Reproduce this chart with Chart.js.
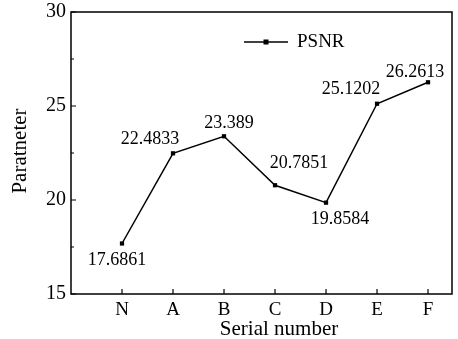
<!DOCTYPE html>
<html>
<head>
<meta charset="utf-8">
<script src="https://cdn.jsdelivr.net/npm/chart.js@4/dist/chart.umd.min.js"></script>
<style>
  html, body { margin: 0; padding: 0; background: #fff; }
  #wrap { width: 458px; height: 339px; }
</style>
</head>
<body>
<div id="wrap"><canvas id="c"></canvas></div>
<script>
// data
const categories = ['N', 'A', 'B', 'C', 'D', 'E', 'F'];
const psnr = [17.6861, 22.4833, 23.389, 20.7851, 19.8584, 25.1202, 26.2613];
const yTicks = [15, 20, 25, 30];
const yMinorTicks = [17.5, 22.5, 27.5];

// where each value label sits relative to its point (px)
const labelOffsets = [[-5, 17], [-23, -14], [5, -13], [24, -22], [14, 17], [-26, -14], [-13, -10]];

const FONT = '"Liberation Serif", "Times New Roman", serif';

const boxPlugin = {
    id: 'box',
    afterDraw(chart) {
        const ctx = chart.ctx;
        const a = chart.chartArea;
        const x = chart.scales.x, y = chart.scales.y;
        ctx.save();
        ctx.strokeStyle = '#000';
        ctx.lineWidth = 1.5;
        ctx.strokeRect(a.left, a.top, a.right - a.left, a.bottom - a.top);

        // inward ticks
        ctx.lineWidth = 1.2;
        ctx.beginPath();
        yTicks.forEach(v => {
            let py = y.getPixelForValue(v);
            ctx.moveTo(a.left, py); ctx.lineTo(a.left + 5, py);
        });
        yMinorTicks.forEach(v => {
            let py = y.getPixelForValue(v);
            ctx.moveTo(a.left, py); ctx.lineTo(a.left + 3, py);
        });
        categories.forEach((c, i) => {
            let px = x.getPixelForValue(i);
            ctx.moveTo(px, a.bottom); ctx.lineTo(px, a.bottom - 5);
        });
        ctx.stroke();

        // value labels
        const meta = chart.getDatasetMeta(0);
        ctx.fillStyle = '#000';
        ctx.font = '18px ' + FONT;
        ctx.textAlign = 'center';
        ctx.textBaseline = 'middle';
        meta.data.forEach((pt, i) => {
            ctx.fillText(String(psnr[i]), pt.x + labelOffsets[i][0], pt.y + labelOffsets[i][1]);
        });

        // legend
        ctx.lineWidth = 1.5;
        ctx.beginPath();
        ctx.moveTo(244, 42); ctx.lineTo(288, 42);
        ctx.stroke();
        ctx.fillRect(263.5, 39.5, 5, 5);
        ctx.font = '19px ' + FONT;
        ctx.textAlign = 'left';
        ctx.fillText('PSNR', 297, 42);

        // axis titles
        ctx.font = '21px ' + FONT;
        ctx.textAlign = 'center';
        ctx.fillText('Serial number', 279, 329);
        ctx.translate(20, 151);
        ctx.rotate(-Math.PI / 2);
        ctx.fillText('Paratneter', 0, 0);
        ctx.restore();
    }
};

new Chart(document.getElementById('c'), {
    type: 'line',
    data: {
        datasets: [{
            label: 'PSNR',
            data: psnr.map((v, i) => ({x: i, y: v})),
            borderColor: '#000',
            backgroundColor: '#000',
            borderWidth: 1.5,
            pointStyle: 'rect',
            pointRadius: 3,
            pointBorderWidth: 0,
            tension: 0
        }]
    },
    options: {
        responsive: true,
        maintainAspectRatio: false,
        animation: false,
        layout: { padding: { top: 12, right: 6, left: 0, bottom: 0 } },
        plugins: { legend: { display: false }, tooltip: { enabled: false } },
        scales: {
            x: {
                type: 'linear',
                min: -1,
                max: 6.47,
                afterBuildTicks(s) { s.ticks = categories.map((c, i) => ({value: i})); },
                afterFit(s) { s.height = 45; s.paddingLeft = 0; s.paddingRight = 0; },
                grid: { display: false, drawTicks: false },
                border: { display: false },
                ticks: {
                    color: '#000',
                    font: { family: FONT, size: 19 },
                    padding: 5,
                    maxRotation: 0,
                    callback: (v) => categories[v]
                }
            },
            y: {
                min: 15,
                max: 30,
                afterBuildTicks(s) { s.ticks = yTicks.map(v => ({value: v})); },
                afterFit(s) { s.width = 71; s.paddingTop = 0; s.paddingBottom = 0; },
                grid: { display: false, drawTicks: false },
                border: { display: false },
                ticks: {
                    color: '#000',
                    font: { family: FONT, size: 20 },
                    padding: 5
                }
            }
        }
    },
    plugins: [boxPlugin]
});
</script>
</body>
</html>
